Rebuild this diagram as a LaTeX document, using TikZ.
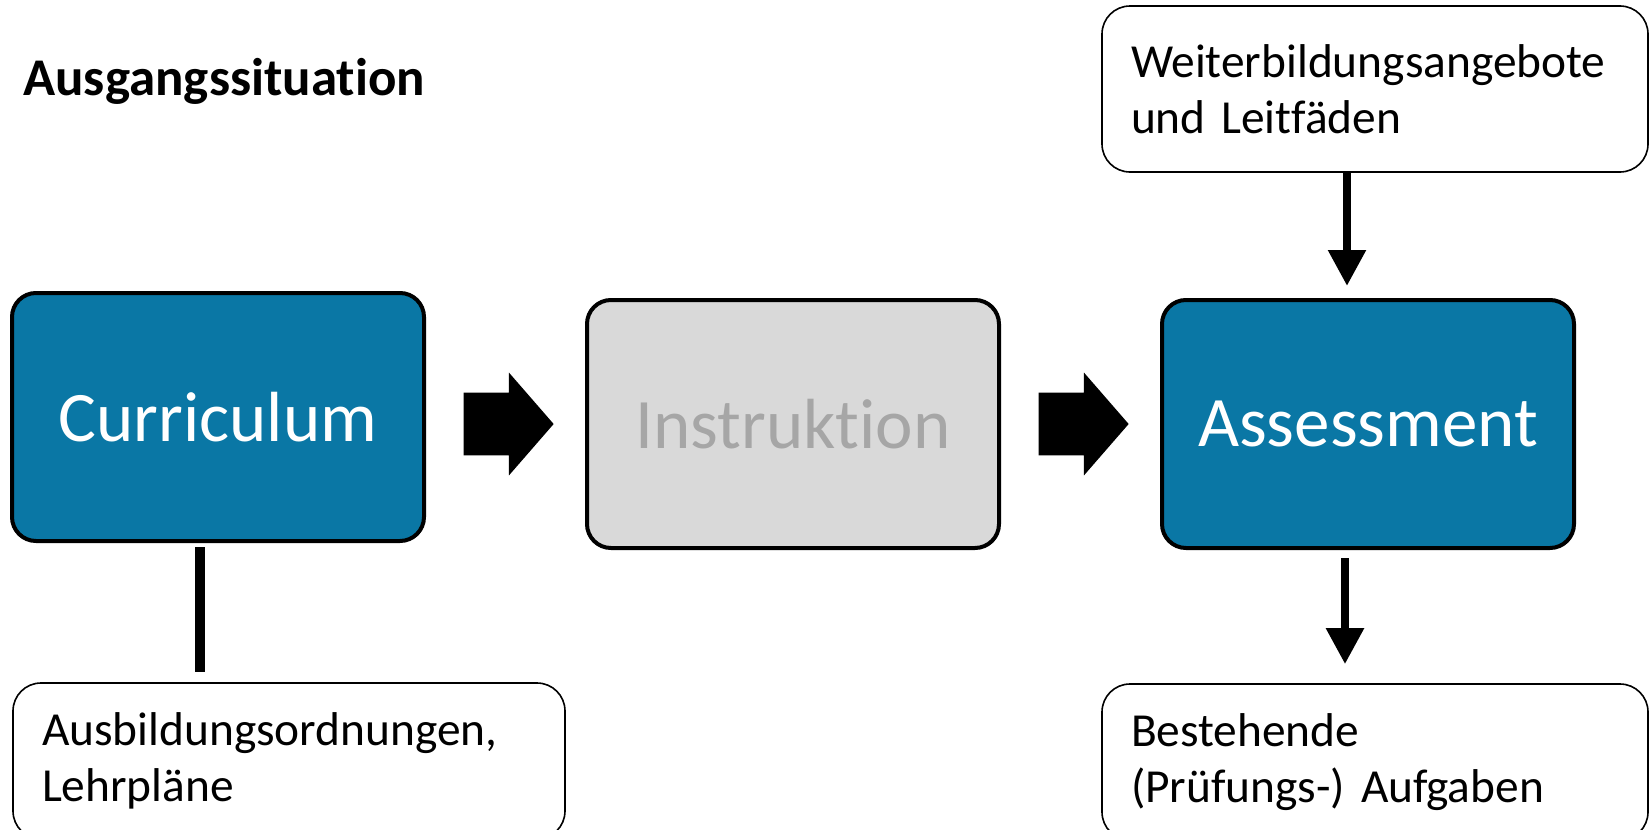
\documentclass[tikz,border=0pt]{standalone}
\usepackage{fontspec}
\setmainfont{Carlito}[Ligatures={NoCommon,NoContextual,NoRequired}]
\usetikzlibrary{shapes.arrows,arrows.meta}
\definecolor{boxblue}{RGB}{10,119,165}
\definecolor{boxgray}{RGB}{217,217,217}
\definecolor{textgray}{RGB}{166,166,166}
\frenchspacing
\begin{document}
\begin{tikzpicture}[x=0.5pt,y=-0.5pt,
  main box/.style={rectangle,rounded corners=12pt,draw,line width=2pt,minimum width=206pt,minimum height=124pt,inner sep=0pt,font=\fontsize{35.5}{40}\selectfont},
  side box/.style={rectangle,rounded corners=14pt,draw,line width=0.8pt,minimum width=273pt,minimum height=83pt,text width=244pt,align=left,inner xsep=14.5pt,inner ysep=0pt,font=\fontsize{23.7}{28}\selectfont},
  block arrow/.style={single arrow,fill=black,inner xsep=0pt,inner ysep=15.5pt,minimum height=45pt,single arrow head extend=10pt,single arrow tip angle=98},
  link/.style={line width=5pt},
  flow/.style={line width=4.2pt,-{Triangle[width=18pt,length=18pt]}}]
\useasboundingbox (0,0) rectangle (1650,830);
\node [anchor=base west,inner sep=0pt,font=\fontsize{26.5}{30}\selectfont\bfseries](title) at (23,95) {Ausgangssituation};
% main row
\node [main box,fill=boxblue,text=white](cur) at (218,417) {Curriculum};
\node [main box,fill=boxgray,text=textgray](ins) at (793,424) {Instruktion};
\node [main box,fill=boxblue,text=white](ass) at (1368,424) {Assessment};
\node [block arrow](a1) at (495,424) {};
\node [block arrow](a2) at (1070,424) {};
% side boxes
\node [side box](wei) at (1375,89) {Weiterbildungsangebote\\und Leitfäden};
\node [side box,minimum width=276pt,text width=247pt,minimum height=78pt](ausb) at (289,761) {Ausbildungsordnungen,\\Lehrpläne};
\node [side box,minimum height=78pt](best) at (1375,762) {Bestehende\\(Prüfungs-) Aufgaben};
\draw [link,shorten <=2pt,shorten >=5pt] ([xshift=-9pt]cur.south) -- ([xshift=-9pt]cur.south |- ausb.north);
\draw [flow,shorten >=6pt] ([xshift=-10.5pt]ass.north |- wei.south) -- ([xshift=-10.5pt]ass.north);
\draw [flow,shorten <=4pt,shorten >=9.5pt] ([xshift=-11.5pt]ass.south) -- ([xshift=-11.5pt]ass.south |- best.north);
\end{tikzpicture}
\end{document}
